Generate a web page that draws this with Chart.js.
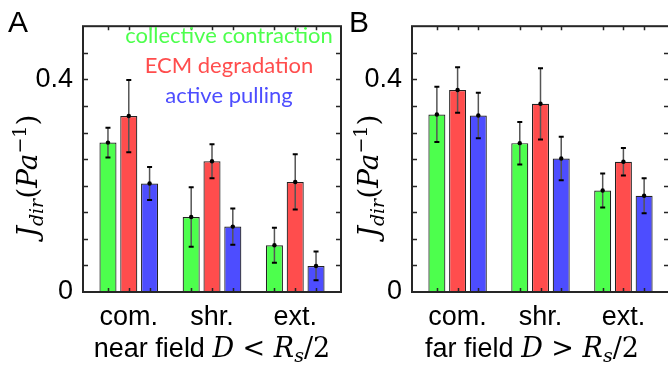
<!DOCTYPE html>
<html>
<head>
<meta charset="utf-8">
<script src="https://cdn.jsdelivr.net/npm/chart.js@4.4.0/dist/chart.umd.min.js"></script>
<style>
  html, body { margin: 0; padding: 0; background: #fff; overflow: hidden; width: 668px; height: 369px; }
  .panel { position: absolute; top: 0; width: 345px; height: 369px; }
  #boxA { left: 0; }
  #boxB { left: 330px; }
</style>
</head>
<body>
<div class="panel" id="boxA"><canvas id="chartA" width="345" height="369"></canvas></div>
<div class="panel" id="boxB"><canvas id="chartB" width="345" height="369"></canvas></div>
<script>
// ===== Dados =====
const categories = ['com.', 'shr.', 'ext.'];
const seriesNames = ['collective contraction', 'ECM degradation', 'active pulling'];
const seriesColors = ['#4dff4d', '#ff4d4d', '#4d4dff'];

// painel A - near field
const nearContraction = [0.281, 0.141, 0.088];
const nearDegradation = [0.331, 0.246, 0.207];
const nearPulling     = [0.204, 0.123, 0.049];
const nearContractionErr = [0.028, 0.056, 0.033];
const nearDegradationErr = [0.068, 0.032, 0.052];
const nearPullingErr     = [0.031, 0.034, 0.027];

// painel B - far field
const farContraction = [0.334, 0.280, 0.191];
const farDegradation = [0.380, 0.354, 0.245];
const farPulling     = [0.332, 0.251, 0.181];
const farContractionErr = [0.052, 0.040, 0.032];
const farDegradationErr = [0.043, 0.067, 0.026];
const farPullingErr     = [0.043, 0.041, 0.033];

// eixo y
const yTickLabels = [0, 0.4];
const yMax = 0.5;
const yMinorStep = 0.05;

const AXIS = '#262626';
const SANS = '"Liberation Sans", Arial, sans-serif';
const SERIF = '"DejaVu Serif", serif';

// desenha um texto com partes de fontes diferentes, centrado em x
function drawParts(ctx, parts, x, y) {
  let total = 0;
  parts.forEach(p => { ctx.font = p.font; p.w = ctx.measureText(p.text).width; total += p.w; });
  let cx = x - total / 2;
  ctx.textBaseline = 'alphabetic';
  ctx.textAlign = 'left';
  parts.forEach(p => {
    ctx.font = p.font;
    ctx.fillText(p.text, cx, y + (p.dy || 0));
    cx += p.w;
  });
}

// ===== Plugin: moldura, ticks, barras de erro, títulos =====
const panelPlugin = {
  id: 'panelPlugin',
  afterDatasetsDraw(chart) {
    const ctx = chart.ctx;
    const y = chart.scales.y;
    ctx.save();
    chart.data.datasets.forEach((ds, i) => {
      chart.getDatasetMeta(i).data.forEach((bar, j) => {
        const v = ds.data[j].y, e = ds.errors[j];
        const top = y.getPixelForValue(v + e), bot = y.getPixelForValue(v - e);
        ctx.strokeStyle = '#555';
        ctx.lineWidth = 1.5;
        ctx.beginPath(); ctx.moveTo(bar.x, top); ctx.lineTo(bar.x, bot); ctx.stroke();
        ctx.strokeStyle = '#000';
        ctx.lineWidth = 2;
        ctx.beginPath();
        ctx.moveTo(bar.x - 2.5, top); ctx.lineTo(bar.x + 2.5, top);
        ctx.moveTo(bar.x - 2.5, bot); ctx.lineTo(bar.x + 2.5, bot);
        ctx.stroke();
        ctx.fillStyle = '#000';
        ctx.beginPath(); ctx.arc(bar.x, y.getPixelForValue(v), 2.2, 0, Math.PI * 2); ctx.fill();
      });
    });
    ctx.restore();
  },
  afterDraw(chart, args, opts) {
    const ctx = chart.ctx;
    const a = chart.chartArea;
    const y = chart.scales.y;
    ctx.save();
    ctx.strokeStyle = AXIS;
    ctx.lineWidth = 2;
    ctx.strokeRect(a.left, a.top, a.right - a.left, a.bottom - a.top);
    // ticks menores no eixo y (para dentro)
    ctx.lineWidth = 1.5;
    ctx.beginPath();
    const n = Math.round(yMax / yMinorStep);
    for (let k = 1; k < n; k++) {
      const py = Math.round(y.getPixelForValue(k * yMinorStep)) + 0.5;
      ctx.moveTo(a.left, py); ctx.lineTo(a.left + 5, py);
      ctx.moveTo(a.right, py); ctx.lineTo(a.right - 5, py);
    }
    // ticks em x nas posições das barras
    chart.data.datasets.forEach((ds, i) => {
      chart.getDatasetMeta(i).data.forEach(bar => {
        const px = Math.round(bar.x) + 0.5;
        ctx.moveTo(px, a.top); ctx.lineTo(px, a.top + 4);
        ctx.moveTo(px, a.bottom); ctx.lineTo(px, a.bottom - 4);
      });
    });
    ctx.stroke();

    // letra do painel
    ctx.fillStyle = '#000';
    ctx.font = '30px ' + SANS;
    ctx.textAlign = 'left';
    ctx.textBaseline = 'alphabetic';
    ctx.fillText(opts.letter, opts.letterX, 32);

    // título do eixo y (rodado)
    ctx.save();
    ctx.translate(opts.yTitleX, 176);
    ctx.rotate(-Math.PI / 2);
    drawParts(ctx, [
      { text: 'J', font: 'italic 28px ' + SERIF },
      { text: 'dir', font: 'italic 19px ' + SERIF, dy: 6 },
      { text: '(', font: '28px ' + SERIF },
      { text: 'Pa', font: 'italic 28px ' + SERIF },
      { text: '\u22121', font: '19px ' + SERIF, dy: -11 },
      { text: ')', font: '28px ' + SERIF }
    ], 0, 0);
    ctx.restore();

    // título do eixo x
    drawParts(ctx, [
      { text: opts.xLabel + ' ', font: '27px ' + SANS },
      { text: 'D', font: 'italic 27px ' + SERIF },
      { text: ' ' + opts.sign + ' ', font: '27px ' + SERIF },
      { text: 'R', font: 'italic 27px ' + SERIF },
      { text: 's', font: 'italic 19px ' + SERIF, dy: 5 },
      { text: '/2', font: '27px ' + SERIF }
    ], opts.xTitleX, 357);

    // legenda em texto colorido
    if (opts.legend) {
      ctx.font = '22px Lato, sans-serif';
      ctx.textAlign = 'center';
      ctx.textBaseline = 'alphabetic';
      chart.data.datasets.forEach((ds, i) => {
        ctx.fillStyle = ds.backgroundColor;
        ctx.fillText(ds.label, 229, 43 + i * 30);
      });
    }
    ctx.restore();
  }
};

function makePanel(canvasId, series, errs, opts) {
  const datasets = series.map((vals, k) => ({
    label: seriesNames[k],
    data: vals.map((v, j) => ({ x: j + 1, y: v })),
    errors: errs[k],
    backgroundColor: seriesColors[k],
    borderColor: '#222',
    borderWidth: 1.2,
    categoryPercentage: 0.75,
    barPercentage: 0.82
  }));
  return new Chart(document.getElementById(canvasId), {
    type: 'bar',
    data: { datasets },
    options: {
      responsive: false,
      animation: false,
      layout: { padding: { top: 21, right: opts.padRight, left: 0, bottom: 0 } },
      plugins: { legend: { display: false }, tooltip: { enabled: false }, panelPlugin: opts },
      scales: {
        x: {
          type: 'linear', min: 0.45, max: 3.55, offset: false,
          grid: { display: false, drawTicks: false }, border: { display: false },
          afterBuildTicks: s => { s.ticks = categories.map((c, i) => ({ value: i + 1 })); },
          afterFit: s => { s.height = 77; },
          ticks: {
            callback: (v, i) => categories[i],
            font: { family: SANS, size: 27 }, color: '#000',
            padding: 9, maxRotation: 0, autoSkip: false
          }
        },
        y: {
          min: 0, max: yMax,
          grid: { display: false, drawTicks: false }, border: { display: false },
          afterBuildTicks: s => { s.ticks = yTickLabels.map(v => ({ value: v })); },
          afterFit: s => { s.width = opts.yWidth; },
          ticks: {
            callback: v => String(v),
            font: { family: SANS, size: 27 }, color: '#000', padding: 10
          }
        }
      }
    },
    plugins: [panelPlugin]
  });
}

makePanel('chartA',
  [nearContraction, nearDegradation, nearPulling],
  [nearContractionErr, nearDegradationErr, nearPullingErr],
  { letter: 'A', letterX: 8, yTitleX: 37, xLabel: 'near field', sign: '<', xTitleX: 212,
    legend: true, yWidth: 83, padRight: 4 });

makePanel('chartB',
  [farContraction, farDegradation, farPulling],
  [farContractionErr, farDegradationErr, farPullingErr],
  { letter: 'B', letterX: 19, yTitleX: 48, xLabel: 'far field', sign: '>', xTitleX: 202,
    legend: false, yWidth: 82, padRight: 6 });
</script>
</body>
</html>
